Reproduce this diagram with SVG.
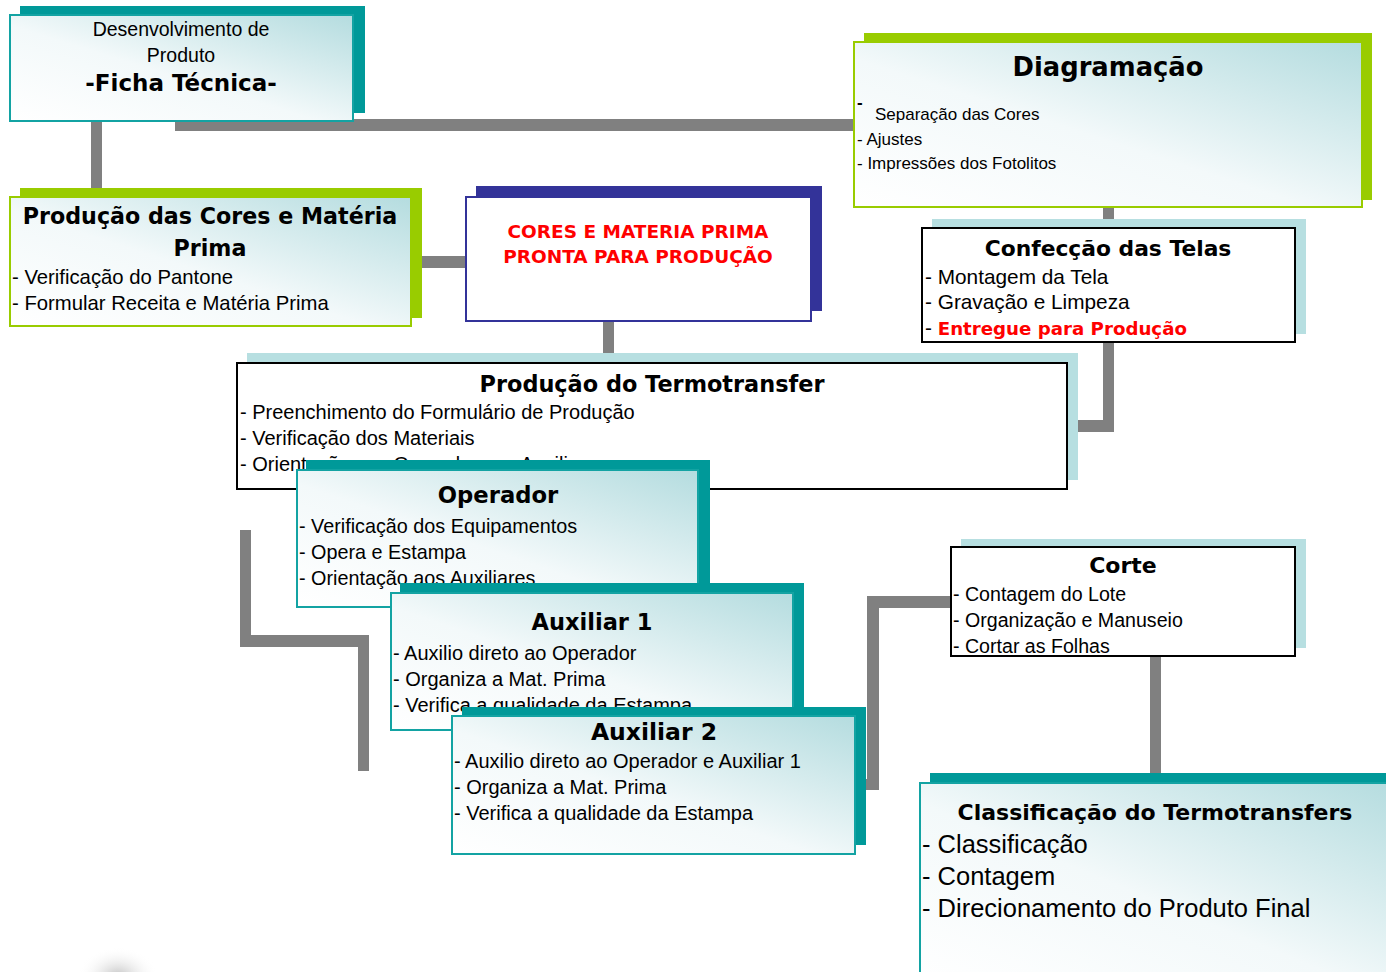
<svg xmlns="http://www.w3.org/2000/svg" width="1386" height="972" viewBox="0 0 1386 972">
<defs>
<linearGradient id="gfill" x1="0" y1="1" x2="1" y2="0">
<stop offset="0" stop-color="#ffffff"/>
<stop offset="0.45" stop-color="#f3f9fa"/>
<stop offset="1" stop-color="#b4dcdf"/>
</linearGradient>
<radialGradient id="blob" cx="0.5" cy="0.7" r="0.5">
<stop offset="0" stop-color="#b0b0b0" stop-opacity="0.8"/>
<stop offset="1" stop-color="#ffffff" stop-opacity="0"/>
</radialGradient>
<style>
.conn{fill:#808080}
.sh-teal{fill:#009999}
.sh-green{fill:#99cc00}
.sh-navy{fill:#333399}
.sh-light{fill:#b7dfe1}
.bx-teal{fill:url(#gfill);stroke:#13a3a3;stroke-width:2}
.bx-green{fill:url(#gfill);stroke:#99cc00;stroke-width:2}
.bx-navy{fill:#ffffff;stroke:#333399;stroke-width:2}
.bx-black{fill:#ffffff;stroke:#000000;stroke-width:2}
text{font-family:"Liberation Sans",Arial,sans-serif;fill:#000}
.t{font-family:"DejaVu Sans",Verdana,sans-serif;font-weight:bold}
.c{text-anchor:middle}
.red{fill:#ff0000}
</style>
</defs>
<rect width="1386" height="972" fill="#ffffff"/>
<ellipse cx="118" cy="965" rx="40" ry="30" fill="url(#blob)"/>
<g id="connectors">
<rect class="conn" x="91" y="115" width="11" height="78"/>
<rect class="conn" x="175" y="119" width="685" height="12"/>
<rect class="conn" x="418" y="256" width="52" height="12"/>
<rect class="conn" x="603" y="318" width="11" height="40"/>
<rect class="conn" x="1103" y="200" width="11" height="30"/>
<rect class="conn" x="1103" y="340" width="11" height="92"/>
<rect class="conn" x="1075" y="420" width="39" height="12"/>
<rect class="conn" x="240" y="530" width="11" height="117"/>
<rect class="conn" x="240" y="635" width="129" height="12"/>
<rect class="conn" x="358" y="635" width="11" height="136"/>
<rect class="conn" x="867" y="596" width="88" height="12"/>
<rect class="conn" x="867" y="596" width="12" height="194"/>
<rect class="conn" x="860" y="779" width="19" height="11"/>
<rect class="conn" x="1150" y="652" width="11" height="125"/>
</g>
<g id="node-desenvolvimento">
<rect class="sh-teal" x="20" y="6" width="345" height="107"/>
<rect class="bx-teal" x="10" y="15" width="343" height="106"/>
<text class="c" x="181" y="36" font-size="19.5">Desenvolvimento de</text>
<text class="c" x="181" y="62" font-size="19.5">Produto</text>
<text class="c t" x="181" y="91" font-size="23">-Ficha Técnica-</text>
</g>
<g id="node-producao-cores">
<rect class="sh-green" x="20" y="188" width="402" height="130"/>
<rect class="bx-green" x="10" y="197" width="401" height="129"/>
<text class="c t" x="210" y="224" font-size="22.2">Produção das Cores e Matéria</text>
<text class="c t" x="210" y="256" font-size="22.2">Prima</text>
<text x="12" y="284" font-size="20.3">- Verificação do Pantone</text>
<text x="12" y="310" font-size="20.3">- Formular Receita e Matéria Prima</text>
</g>
<g id="node-cores-pronta">
<rect class="sh-navy" x="476" y="186" width="346" height="125"/>
<rect class="bx-navy" x="466" y="197" width="345" height="124"/>
<text class="c t red" x="638" y="238" font-size="18.5">CORES E MATERIA PRIMA</text>
<text class="c t red" x="638" y="263" font-size="18.5">PRONTA PARA PRODUÇÃO</text>
</g>
<g id="node-diagramacao">
<rect class="sh-green" x="864" y="33" width="508" height="167"/>
<rect class="bx-green" x="854" y="42" width="508" height="165"/>
<text class="c t" x="1108" y="76" font-size="25.8">Diagramação</text>
<text x="857" y="108" font-size="17" font-weight="bold">-</text>
<text x="875" y="120" font-size="17">Separação das Cores</text>
<text x="857" y="145" font-size="17">- Ajustes</text>
<text x="857" y="169" font-size="17">- Impressões dos Fotolitos</text>
</g>
<g id="node-confeccao">
<rect class="sh-light" x="932" y="219" width="374" height="115"/>
<rect class="bx-black" x="922" y="228" width="373" height="114"/>
<text class="c t" x="1108" y="256" font-size="21.8">Confecção das Telas</text>
<text x="925" y="284" font-size="20.8">- Montagem da Tela</text>
<text x="925" y="309" font-size="20.8">- Gravação e Limpeza</text>
<text x="925" y="335" font-size="20.8">- <tspan class="t red" font-size="18.2">Entregue para Produção</tspan></text>
</g>
<g id="node-producao-termotransfer">
<rect class="sh-light" x="247" y="353" width="831" height="127"/>
<rect class="bx-black" x="237" y="363" width="830" height="126"/>
<text class="c t" x="652" y="392" font-size="22.4">Produção do Termotransfer</text>
<text x="240" y="419" font-size="20">- Preenchimento do Formulário de Produção</text>
<text x="240" y="445" font-size="20">- Verificação dos Materiais</text>
<text x="240" y="471" font-size="20">- Orientação aos Operadores e Auxiliares</text>
</g>
<g id="node-operador">
<rect class="sh-teal" x="306" y="460" width="404" height="140"/>
<rect class="bx-teal" x="297" y="470" width="401" height="137"/>
<text class="c t" x="498" y="503" font-size="22.7">Operador</text>
<text x="299" y="533" font-size="19.8">- Verificação dos Equipamentos</text>
<text x="299" y="559" font-size="19.8">- Opera e Estampa</text>
<text x="299" y="585" font-size="19.8">- Orientação aos Auxiliares</text>
</g>
<g id="node-auxiliar1">
<rect class="sh-teal" x="400" y="583" width="404" height="137"/>
<rect class="bx-teal" x="391" y="593" width="402" height="137"/>
<text class="c t" x="592" y="630" font-size="22.5">Auxiliar 1</text>
<text x="393" y="660" font-size="20">-  Auxilio direto ao Operador</text>
<text x="393" y="686" font-size="20">- Organiza a Mat. Prima</text>
<text x="393" y="712" font-size="20">- Verifica a qualidade da Estampa</text>
</g>
<g id="node-auxiliar2">
<rect class="sh-teal" x="462" y="707" width="404" height="138"/>
<rect class="bx-teal" x="452" y="716" width="403" height="138"/>
<text class="c t" x="654" y="740" font-size="23.5">Auxiliar 2</text>
<text x="454" y="768" font-size="20">- Auxilio direto ao Operador e Auxiliar 1</text>
<text x="454" y="794" font-size="20">- Organiza a Mat. Prima</text>
<text x="454" y="820" font-size="20">- Verifica a qualidade da Estampa</text>
</g>
<g id="node-corte">
<rect class="sh-light" x="961" y="539" width="345" height="109"/>
<rect class="bx-black" x="951" y="547" width="344" height="109"/>
<text class="c t" x="1123" y="573" font-size="22">Corte</text>
<text x="953" y="601" font-size="19.6">- Contagem do Lote</text>
<text x="953" y="627" font-size="19.6">- Organização e Manuseio</text>
<text x="953" y="653" font-size="19.6">- Cortar as Folhas</text>
</g>
<g id="node-classificacao">
<rect class="sh-teal" x="930" y="773" width="470" height="210"/>
<rect class="bx-teal" x="920" y="783" width="480" height="200"/>
<text class="c t" x="1155" y="820" font-size="22">Classificação do Termotransfers</text>
<text x="922" y="853" font-size="25.5">- Classificação</text>
<text x="922" y="885" font-size="25.5">- Contagem</text>
<text x="922" y="917" font-size="25.5">- Direcionamento do Produto Final</text>
</g>
</svg>
